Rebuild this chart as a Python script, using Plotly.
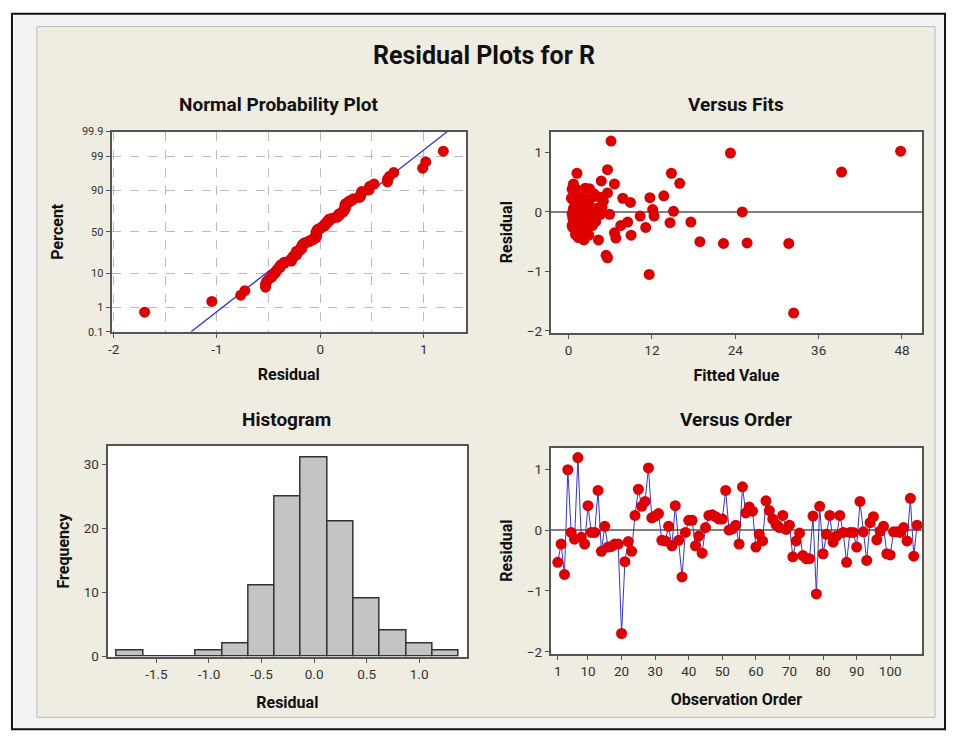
import plotly.graph_objects as go
from statistics import NormalDist
import numpy as np

# ---------------- data ----------------
residuals = [
    -0.53, -0.23, -0.73, 0.99, -0.04, -0.15, 1.19, -0.12, -0.23, 0.40,
    -0.04, -0.04, 0.65, -0.35, 0.06, -0.28, -0.27, -0.23, -0.23, -1.70,
    -0.52, -0.19, -0.35, 0.24, 0.67, 0.39, 0.47, 1.02, 0.20, 0.23,
    0.27, -0.17, -0.18, 0.06, -0.26, 0.40, -0.17, -0.77, -0.04, 0.16,
    0.16, -0.26, -0.10, -0.38, 0.04, 0.24, 0.25, 0.22, 0.18, 0.18,
    0.65, 0.00, 0.02, 0.08, -0.23, 0.71, 0.28, 0.38, 0.31, -0.28,
    -0.07, -0.18, 0.48, 0.32, 0.18, 0.09, 0.04, 0.24, 0.01, 0.08,
    -0.44, -0.18, -0.05, -0.42, -0.47, -0.47, 0.23, -1.05, 0.39, -0.39,
    -0.07, 0.24, -0.20, -0.10, 0.24, -0.04, -0.53, -0.04, -0.04, -0.28,
    0.47, -0.03, -0.50, 0.12, 0.22, -0.16, -0.02, 0.06, -0.39, -0.41,
    -0.03, -0.03, -0.04, 0.04, -0.18, 0.52, -0.43, 0.08,
]
fitted = [
    31.7, 1.4, 5.4, 23.3, 5.9, 0.8, 6.1, 1.9, 7.5, 0.6,
    2.2, 0.9, 1.2, 6.6, 3.1, 1.6, 2.6, 0.5, 3.4, 32.4,
    25.7, 1.1, 2.0, 11.7, 39.3, 3.0, 6.6, 47.8, 1.7, 7.8,
    13.7, 17.6, 14.6, 0.7, 11.1, 2.4, 8.5, 5.6, 1.3, 8.9,
    2.9, 0.6, 3.8, 1.0, 12.1, 1.5, 4.4, 0.9, 2.1, 5.0,
    14.8, 25.0, 1.8, 4.8, 2.7, 5.6, 1.2, 0.5, 3.6, 2.3,
    10.3, 1.4, 16.0, 5.6, 0.8, 2.5, 1.1, 3.3, 15.1, 1.9,
    6.8, 0.7, 2.8, 1.6, 4.3, 2.2, 0.4, 11.6, 1.0, 9.0,
    12.3, 2.0, 3.5, 0.6, 1.3, 4.6, 22.3, 1.7, 2.6, 0.9,
    0.7, 3.2, 18.9, 1.5, 2.4, 3.9, 1.0, 4.1, 2.9, 1.8,
    0.5, 2.1, 1.2, 3.7, 0.8, 4.7, 1.4, 2.3,
]
order = list(range(1, len(residuals) + 1))

hist_centers = [-1.75, -1.50, -1.25, -1.00, -0.75, -0.50, -0.25, 0.00, 0.25, 0.50, 0.75, 1.00, 1.25]
hist_counts = [1, 0, 0, 1, 2, 11, 25, 31, 21, 9, 4, 2, 1]

pct_ticks = [0.1, 1, 10, 50, 90, 99, 99.9]
pct_labels = ["0.1", "1", "10", "50", "90", "99", "99.9"]

# ---------------- helpers ----------------
W, H = 953, 745
def px(x0, x1):
    return [x0 / W, x1 / W]
def py(y0, y1):
    return [1 - y1 / H, 1 - y0 / H]

nd = NormalDist()
n = len(residuals)
sorted_res = sorted(residuals)
z_pts = [nd.inv_cdf((i - 0.3) / (n + 0.4)) for i in range(1, n + 1)]
mu = float(np.mean(residuals))
sd = float(np.std(residuals, ddof=1))
z_lo, z_hi = nd.inv_cdf(0.001), nd.inv_cdf(0.999)
pct_z = [nd.inv_cdf(p / 100) for p in pct_ticks]

RED = "rgb(222,0,0)"
BLUE = "rgb(50,50,230)"
FONT = "Roboto"
TICKFONT = dict(family=FONT, size=13.5, color="#333333")
TITLEFONT = dict(family=FONT, size=16, color="#111111")

fig = go.Figure()

# Normal probability plot
fig.add_trace(go.Scatter(x=[mu + sd * z_lo, mu + sd * z_hi], y=[z_lo, z_hi], mode="lines",
                         line=dict(color=BLUE, width=1.3), xaxis="x", yaxis="y", showlegend=False,
                         hoverinfo="skip"))
fig.add_trace(go.Scatter(x=sorted_res, y=z_pts, mode="markers",
                         marker=dict(color=RED, size=11), xaxis="x", yaxis="y", showlegend=False))
# Versus fits
fig.add_trace(go.Scatter(x=fitted, y=residuals, mode="markers",
                         marker=dict(color=RED, size=11), xaxis="x2", yaxis="y2", showlegend=False))
# Histogram
fig.add_trace(go.Bar(x=hist_centers, y=hist_counts, width=0.25,
                     marker=dict(color="rgb(196,196,196)", line=dict(color="#333333", width=1.5)),
                     xaxis="x3", yaxis="y3", showlegend=False))
# Versus order
fig.add_trace(go.Scatter(x=order, y=residuals, mode="lines+markers",
                         line=dict(color=BLUE, width=1),
                         marker=dict(color=RED, size=11), xaxis="x4", yaxis="y4", showlegend=False))

axis_common = dict(showline=True, mirror=True, linecolor="#555555", linewidth=2,
                   ticks="outside", ticklen=4, tickcolor="#555555", tickfont=TICKFONT,
                   showgrid=False, zeroline=False, title_font=TITLEFONT)

fig.update_layout(
    width=W, height=H,
    margin=dict(l=0, r=0, t=0, b=0),
    paper_bgcolor="white", plot_bgcolor="white",
    font=dict(family=FONT),
    xaxis=dict(axis_common, domain=px(108, 464), anchor="y", range=[-2.02, 1.41],
               tickvals=[-2, -1, 0, 1], ticktext=["-2", "-1", "0", "1"],
               showgrid=True, gridcolor="#BBBBBB", griddash="dash", gridwidth=1,
               minor=dict(tickvals=[-1.5, -0.5, 0.5], showgrid=True, gridcolor="#BBBBBB",
                          griddash="dash", ticklen=0),
               title=dict(text="<b>Residual</b>", standoff=13)),
    yaxis=dict(axis_common, domain=py(128, 332), anchor="x", range=[z_lo, z_hi],
               tickvals=pct_z, ticktext=pct_labels, tickfont=dict(TICKFONT, size=11),
               showgrid=True, gridcolor="#BBBBBB", griddash="dash", gridwidth=1,
               title=dict(text="<b>Percent</b>", standoff=14)),
    xaxis2=dict(axis_common, domain=px(549, 922), anchor="y2", range=[-2.58, 50.9],
                tickvals=[0, 12, 24, 36, 48], title=dict(text="<b>Fitted Value</b>", standoff=13)),
    yaxis2=dict(axis_common, domain=py(128, 333), anchor="x2", range=[-2.03, 1.35],
                tickvals=[-2, -1, 0, 1], zeroline=True, zerolinecolor="#808080", zerolinewidth=2,
                title=dict(text="<b>Residual</b>", standoff=10)),
    xaxis3=dict(axis_common, domain=px(104, 465), anchor="y3", range=[-1.965, 1.455],
                tickvals=[-1.5, -1.0, -0.5, 0.0, 0.5, 1.0],
                ticktext=["-1.5", "-1.0", "-0.5", "0.0", "0.5", "1.0"],
                title=dict(text="<b>Residual</b>", standoff=16)),
    yaxis3=dict(axis_common, domain=py(448, 663), anchor="x3", range=[0, 32.9],
                tickvals=[0, 10, 20, 30], title=dict(text="<b>Frequency</b>", standoff=10)),
    xaxis4=dict(axis_common, domain=px(549, 922), anchor="y4", range=[-1.1, 109.5],
                tickvals=[1, 10, 20, 30, 40, 50, 60, 70, 80, 90, 100],
                title=dict(text="<b>Observation Order</b>", standoff=16)),
    yaxis4=dict(axis_common, domain=py(450, 660), anchor="x4", range=[-2.03, 1.355],
                tickvals=[-2, -1, 0, 1], zeroline=True, zerolinecolor="#808080", zerolinewidth=2,
                title=dict(text="<b>Residual</b>", standoff=10)),
    bargap=0,
)

# frame and beige panel
fig.add_shape(type="rect", xref="paper", yref="paper", x0=8 / W, x1=945 / W, y0=1 - 737 / H, y1=1 - 8 / H,
              line=dict(color="#111111", width=2), fillcolor="rgb(242,242,242)", layer="below")
fig.add_shape(type="rect", xref="paper", yref="paper", x0=33 / W, x1=935 / W, y0=1 - 725 / H, y1=1 - 21 / H,
              line=dict(color="#BBBBBB", width=1), fillcolor="rgb(239,236,225)", layer="below")
# white plot areas on top of the panel
for ax in ["x", "x2", "x3", "x4"]:
    ya = "y" + ax[1:]
    fig.add_shape(type="rect", xref=f"{ax} domain", yref=f"{ya} domain", x0=0, x1=1, y0=0, y1=1,
                  line=dict(width=0), fillcolor="white", layer="below")

def title_ann(text, x, y, size):
    fig.add_annotation(text=f"<b>{text}</b>", x=x / W, y=1 - y / H, xref="paper", yref="paper",
                       showarrow=False, font=dict(family=FONT, size=size, color="#111111"),
                       xanchor="center", yanchor="middle")

title_ann("Residual Plots for R", 482, 50, 25)
title_ann("Normal Probability Plot", 276, 100, 19)
title_ann("Versus Fits", 735, 100, 19)
title_ann("Histogram", 284, 421, 19)
title_ann("Versus Order", 735, 421, 19)

fig.write_html("out.html", config={"displayModeBar": False},
               post_script="document.body.style.margin='0';document.body.style.overflow='hidden';")
